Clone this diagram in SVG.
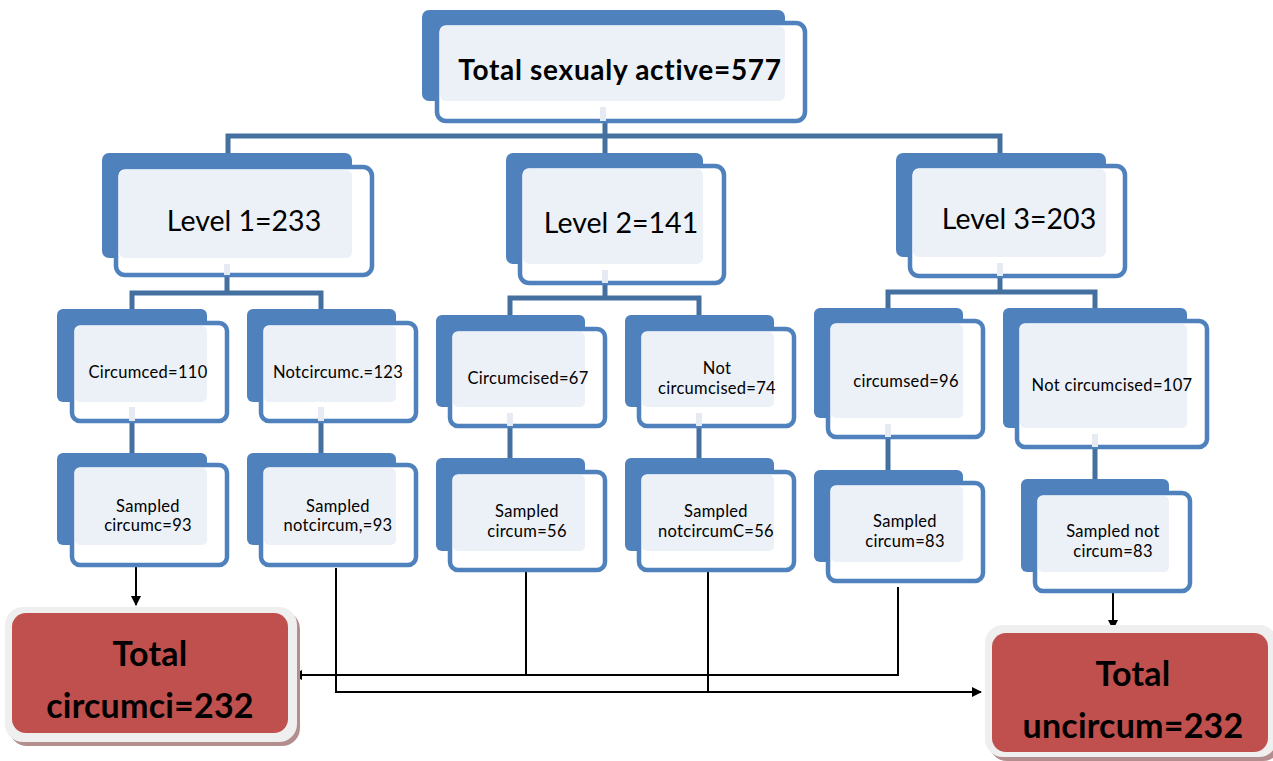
<svg xmlns="http://www.w3.org/2000/svg" width="1273" height="761" viewBox="0 0 1273 761">
<style>
.back{fill:#4F81BD}
.front{fill:#FFFFFF;stroke:#4F81BD;stroke-width:4.5}
.light{fill:#ECF0F7}
.stub{fill:#E6EBF3}
.tree{stroke:#44709F;stroke-width:5;fill:none}
.blk{stroke:#000;stroke-width:2;fill:none}
.t{font-family:Lato,"Liberation Sans",sans-serif;fill:#000;text-anchor:middle}
.s{font-size:16.5px;letter-spacing:0.3px}
.lv{font-size:28.5px}
.b{font-weight:bold}
.big{font-size:34px;letter-spacing:0.2px}
.redo{fill:#EFEFEF}
.reds{fill:#B48E8E}
.red{fill:#C0504D}
</style>
<defs>
<marker id="ah" viewBox="0 0 10 10" refX="9" refY="5" markerWidth="6" markerHeight="5" orient="auto" markerUnits="strokeWidth">
<path d="M0,0 L10,5 L0,10 z" fill="#000"/>
</marker>
</defs>

<g id="connectors">
<path class="tree" d="M228,153 V136 H1000 V153 M605,123 V153"/>
<path class="tree" d="M227,277 V293 M132,309 V293 H321 V309"/>
<path class="tree" d="M605,285 V298 M510,315 V298 H699 V315"/>
<path class="tree" d="M1000,278 V292 M888,308 V292 H1095 V308"/>
<path class="tree" d="M132,423 V453 M321,423 V453"/>
<path class="tree" d="M510,428 V458 M699,428 V458"/>
<path class="tree" d="M888,439 V470 M1095,449 V479"/>
<path class="blk" d="M136,567 V605" marker-end="url(#ah)"/>
<path class="blk" d="M1113,593 V629" marker-end="url(#ah)"/>
<path class="blk" d="M526,572 V675 M898,587 V675 H293" marker-end="url(#ah)"/>
<path class="blk" d="M708,572 V692 M336,568 V692 H981" marker-end="url(#ah)"/>
</g>

<g id="n_total">
<rect class="back" x="422" y="10" width="363" height="91" rx="7"/>
<rect class="front" x="437" y="23" width="368" height="98" rx="9"/>
<rect class="light" x="440" y="26" width="345" height="75" rx="6"/>
<rect class="stub" x="600" y="107" width="6" height="14"/>
<text class="t b" x="620" y="80" font-size="28" letter-spacing="0.7">Total sexualy active=577</text>
</g>

<g id="n_level1">
<rect class="back" x="102" y="153" width="250" height="105" rx="7"/>
<rect class="front" x="116" y="167" width="256" height="108" rx="9"/>
<rect class="light" x="119" y="170" width="233" height="88" rx="6"/>
<rect class="stub" x="224" y="264" width="6" height="11"/>
<text class="t lv" x="244" y="231">Level 1=233</text>
</g>

<g id="n_level2">
<rect class="back" x="506" y="153" width="197" height="111" rx="7"/>
<rect class="front" x="520" y="166" width="204" height="117" rx="9"/>
<rect class="light" x="523" y="169" width="180" height="95" rx="6"/>
<rect class="stub" x="602" y="270" width="6" height="13"/>
<text class="t lv" x="621" y="233">Level 2=141</text>
</g>

<g id="n_level3">
<rect class="back" x="896" y="153" width="210" height="104" rx="7"/>
<rect class="front" x="910" y="166" width="215" height="110" rx="9"/>
<rect class="light" x="913" y="169" width="193" height="88" rx="6"/>
<rect class="stub" x="997" y="263" width="6" height="13"/>
<text class="t lv" x="1019" y="229">Level 3=203</text>
</g>

<g id="n_circ1">
<rect class="back" x="57" y="309" width="150" height="93" rx="6"/>
<rect class="front" x="72" y="323" width="155" height="98" rx="8"/>
<rect class="light" x="75" y="326" width="132" height="76" rx="5"/>
<rect class="stub" x="129" y="407" width="6" height="14"/>
<text class="t s" x="148" y="378">Circumced=110</text>
</g>

<g id="n_notcirc1">
<rect class="back" x="247" y="309" width="149" height="93" rx="6"/>
<rect class="front" x="261" y="323" width="155" height="98" rx="8"/>
<rect class="light" x="264" y="326" width="132" height="76" rx="5"/>
<rect class="stub" x="318" y="407" width="6" height="14"/>
<text class="t s" x="338" y="378">Notcircumc.=123</text>
</g>

<g id="n_samp_circ1">
<rect class="back" x="57" y="453" width="150" height="92" rx="6"/>
<rect class="front" x="72" y="465" width="155" height="100" rx="8"/>
<rect class="light" x="75" y="468" width="132" height="77" rx="5"/>
<text class="t s" x="148" y="512">Sampled</text>
<text class="t s" x="148" y="531">circumc=93</text>
</g>

<g id="n_samp_notcirc1">
<rect class="back" x="247" y="453" width="149" height="92" rx="6"/>
<rect class="front" x="261" y="465" width="155" height="100" rx="8"/>
<rect class="light" x="264" y="468" width="132" height="77" rx="5"/>
<text class="t s" x="338" y="512">Sampled</text>
<text class="t s" x="338" y="531">notcircum,=93</text>
</g>

<g id="n_circ2">
<rect class="back" x="436" y="315" width="149" height="92" rx="6"/>
<rect class="front" x="450" y="329" width="155" height="97" rx="8"/>
<rect class="light" x="453" y="332" width="132" height="75" rx="5"/>
<rect class="stub" x="507" y="413" width="6" height="13"/>
<text class="t s" x="528" y="384">Circumcised=67</text>
</g>

<g id="n_notcirc2">
<rect class="back" x="625" y="315" width="149" height="92" rx="6"/>
<rect class="front" x="639" y="329" width="155" height="97" rx="8"/>
<rect class="light" x="642" y="332" width="132" height="75" rx="5"/>
<rect class="stub" x="696" y="413" width="6" height="13"/>
<text class="t s" x="717" y="374">Not</text>
<text class="t s" x="717" y="394">circumcised=74</text>
</g>

<g id="n_samp_circ2">
<rect class="back" x="436" y="458" width="149" height="93" rx="6"/>
<rect class="front" x="450" y="472" width="155" height="98" rx="8"/>
<rect class="light" x="453" y="475" width="132" height="76" rx="5"/>
<text class="t s" x="527" y="517">Sampled</text>
<text class="t s" x="527" y="537">circum=56</text>
</g>

<g id="n_samp_notcirc2">
<rect class="back" x="625" y="458" width="149" height="93" rx="6"/>
<rect class="front" x="639" y="472" width="155" height="98" rx="8"/>
<rect class="light" x="642" y="475" width="132" height="76" rx="5"/>
<text class="t s" x="716" y="517">Sampled</text>
<text class="t s" x="716" y="537">notcircumC=56</text>
</g>

<g id="n_circ3">
<rect class="back" x="814" y="308" width="149" height="110" rx="6"/>
<rect class="front" x="828" y="321" width="155" height="116" rx="8"/>
<rect class="light" x="831" y="324" width="132" height="94" rx="5"/>
<rect class="stub" x="885" y="424" width="6" height="13"/>
<text class="t s" x="906" y="387">circumsed=96</text>
</g>

<g id="n_notcirc3">
<rect class="back" x="1003" y="308" width="184" height="120" rx="6"/>
<rect class="front" x="1017" y="321" width="190" height="126" rx="8"/>
<rect class="light" x="1020" y="324" width="167" height="104" rx="5"/>
<rect class="stub" x="1092" y="434" width="6" height="13"/>
<text class="t s" x="1112" y="391">Not circumcised=107</text>
</g>

<g id="n_samp_circ3">
<rect class="back" x="814" y="470" width="149" height="92" rx="6"/>
<rect class="front" x="828" y="483" width="155" height="98" rx="8"/>
<rect class="light" x="831" y="486" width="132" height="76" rx="5"/>
<text class="t s" x="905" y="527">Sampled</text>
<text class="t s" x="905" y="547">circum=83</text>
</g>

<g id="n_samp_notcirc3">
<rect class="back" x="1021" y="479" width="148" height="93" rx="6"/>
<rect class="front" x="1035" y="493" width="155" height="98" rx="8"/>
<rect class="light" x="1038" y="496" width="131" height="76" rx="5"/>
<text class="t s" x="1113" y="537">Sampled not</text>
<text class="t s" x="1113" y="557">circum=83</text>
</g>

<g id="n_total_circ">
<rect class="reds" x="9" y="611" width="291" height="135" rx="18"/>
<rect class="redo" x="5" y="607" width="292" height="135" rx="18"/>
<rect class="red" x="12" y="613" width="276" height="120" rx="14"/>
<text class="t b big" x="150" y="666">Total</text>
<text class="t b big" x="150" y="718">circumci=232</text>
</g>

<g id="n_total_uncirc">
<rect class="reds" x="989" y="629" width="292" height="132" rx="18"/>
<rect class="redo" x="985" y="625" width="292" height="132" rx="18"/>
<rect class="red" x="992" y="633" width="276" height="119" rx="14"/>
<text class="t b big" x="1133" y="686">Total</text>
<text class="t b big" x="1133" y="738">uncircum=232</text>
</g>
</svg>
